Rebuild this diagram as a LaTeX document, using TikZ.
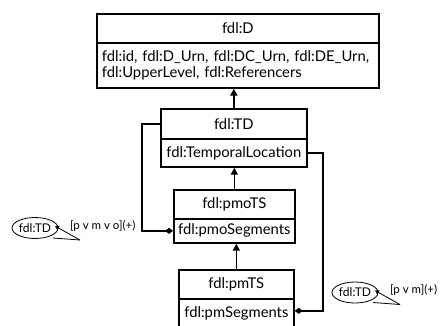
\documentclass[tikz,border=0pt]{standalone}
\usepackage{fontspec}
\setmainfont{Lato}
\usetikzlibrary{arrows.meta,calc,shapes.geometric}
\begin{document}
\begin{tikzpicture}[x=1pt,y=-1pt,
  box/.style={draw, line width=1.7pt, inner sep=0pt, anchor=north west, font=\fontsize{14.8}{16.5}\selectfont},
  attrbox/.style={box, align=left, inner xsep=5pt},
  inh/.style={line width=1.7pt, -{Triangle[length=7pt,width=7pt]}},
  agg/.style={line width=1.7pt, -{Diamond[length=8pt,width=6pt]}},
  tag/.style={ellipse, draw, line width=0.8pt, inner sep=0pt, minimum width=46pt, minimum height=21pt, font=\fontsize{12}{14}\selectfont},
  call/.style={line width=0.8pt},
  mult/.style={anchor=west, inner sep=0pt, font=\fontsize{11.5}{13}\selectfont}
]
\useasboundingbox (0,0) rectangle (440,325);
\fill[white] (0,0) rectangle (440,325);
% fdl:D
\node[box, minimum width=282pt, minimum height=29pt] (Dt) at (96,13) {fdl:D};
\node[attrbox, text width=272pt, minimum height=45pt] (Da) at (96,42) {fdl:id, fdl:D\_Urn, fdl:DC\_Urn, fdl:DE\_Urn,\\fdl:UpperLevel, fdl:Referencers};
% fdl:TD
\node[box, minimum width=146pt, minimum height=30pt] (TDt) at (160,108) {fdl:TD};
\node[box, minimum width=146pt, minimum height=28pt] (TDa) at (160,138) {fdl:TemporalLocation};
% fdl:pmoTS
\node[box, minimum width=121pt, minimum height=29pt] (pmot) at (173,189) {fdl:pmoTS};
\node[box, minimum width=121pt, minimum height=24pt] (pmoa) at (173,218) {fdl:pmoSegments};
% fdl:pmTS
\node[box, minimum width=115pt, minimum height=29pt] (pmt) at (178,269) {fdl:pmTS};
\node[box, minimum width=115pt, minimum height=30pt] (pma) at (178,298) {fdl:pmSegments};
% inheritance
\draw[inh] (TDt.north) -- (TDt.north |- Da.south);
\draw[inh] (pmot.north) -- (pmot.north |- TDa.south);
\draw[inh] (pmt.north) -- (pmt.north |- pmoa.south);
% aggregation
\coordinate (L) at (142,0);
\coordinate (R) at (323,0);
\coordinate (pmaE) at ($(pma.east)+(0,-3)$);
\draw[agg] (TDt.west) -- (TDt.west -| L) -- (L |- pmoa.west) -- (pmoa.west);
\draw[agg] (TDa.east) -- (TDa.east -| R) -- (R |- pmaE) -- (pmaE);
% tags
\node[tag] (e1) at (35,228) {fdl:TD};
\coordinate (v1) at ($(e1)+(45,12)$);
\draw[call, -{Triangle[length=4pt,width=4.5pt]}] (v1) -- ($(e1)+(20,-2)$);
\draw[call] (v1) -- ($(e1)+(18,10)$);
\node[mult] (m1) at (70,226) {[p v m v o](+)};
\node[tag] (e2) at (355,292.5) {fdl:TD};
\coordinate (v2) at ($(e2)+(45,12)$);
\draw[call, -{Triangle[length=4pt,width=4.5pt]}] (v2) -- ($(e2)+(20,-2)$);
\draw[call] (v2) -- ($(e2)+(18,10)$);
\node[mult] (m2) at (390,290.5) {[p v m](+)};
\end{tikzpicture}
\end{document}
